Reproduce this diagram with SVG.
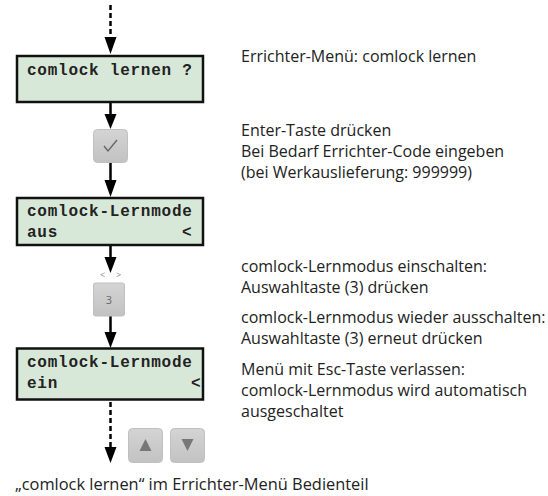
<svg xmlns="http://www.w3.org/2000/svg" width="548" height="496" viewBox="0 0 548 496">
<style>
.box{fill:#d8e8d8;stroke:#111;stroke-width:2.5}
.lcd{font-family:"Liberation Mono","Courier New",monospace;font-weight:bold;font-size:16px;letter-spacing:0.75px;fill:#222}
.txt{font-family:"Open Sans","Noto Sans",sans-serif;font-size:16px;fill:#222}
.ln{stroke:#000;stroke-width:2.5;fill:none}
.dash{stroke:#000;stroke-width:2.5;fill:none;stroke-dasharray:5 3}
.btn{fill:url(#g);stroke:#c0c0c0;stroke-width:1}
.sym{fill:#777}
.tiny{font-family:"Open Sans","Noto Sans",sans-serif;font-size:9px;fill:#888}
</style>
<defs>
<linearGradient id="g" x1="0" y1="0" x2="0" y2="1">
<stop offset="0" stop-color="#d4d4d4"/>
<stop offset="1" stop-color="#c2c2c2"/>
</linearGradient>
</defs>

<g id="connectors">
<line class="dash" x1="110.5" y1="5" x2="110.5" y2="40"/>
<path d="M104.5,37 L116.5,37 L110.5,54 Z" fill="#000"/>
<line class="ln" x1="110.5" y1="102" x2="110.5" y2="116"/>
<path d="M104.5,114 L116.5,114 L110.5,129 Z" fill="#000"/>
<line class="ln" x1="110.5" y1="163" x2="110.5" y2="182"/>
<path d="M104.5,180 L116.5,180 L110.5,197 Z" fill="#000"/>
<line class="ln" x1="110.5" y1="245" x2="110.5" y2="259"/>
<path d="M104.5,257 L116.5,257 L110.5,273 Z" fill="#000"/>
<line class="ln" x1="110.5" y1="316" x2="110.5" y2="334"/>
<path d="M104.5,332 L116.5,332 L110.5,348 Z" fill="#000"/>
<line class="dash" x1="110.5" y1="402" x2="110.5" y2="449"/>
<path d="M104.5,447 L116.5,447 L110.5,463 Z" fill="#000"/>
</g>

<g id="box1">
<rect class="box" x="17" y="56" width="186" height="46"/>
<text class="lcd" x="27" y="75">comlock lernen ?</text>
</g>

<g id="btn-enter">
<rect class="btn" x="93.5" y="129.5" width="34" height="33" rx="4"/>
<path d="M104,146 L108,151 L117,140" stroke="#666" stroke-width="1.4" fill="none"/>
</g>

<g id="box2">
<rect class="box" x="17" y="198" width="186" height="47"/>
<text class="lcd" x="27" y="216">comlock-Lernmode</text>
<text class="lcd" x="27" y="237">aus</text>
<text class="lcd" x="182" y="237">&lt;</text>
</g>

<g id="btn-3">
<text class="tiny" x="100" y="278">&lt;</text>
<text class="tiny" x="116" y="278">&gt;</text>
<rect class="btn" x="93.5" y="283" width="31" height="33" rx="2"/>
<text x="109" y="304" text-anchor="middle" font-family="'Open Sans','Noto Sans',sans-serif" font-size="11" fill="#666">3</text>
</g>

<g id="box3">
<rect class="box" x="17" y="348.5" width="186" height="51"/>
<text class="lcd" x="27" y="367">comlock-Lernmode</text>
<text class="lcd" x="27" y="388">ein</text>
<text class="lcd" x="191" y="388">&lt;</text>
</g>

<g id="btn-up">
<rect class="btn" x="128.5" y="428.5" width="34" height="34" rx="4"/>
<path class="sym" d="M139.5,451 L151.5,451 L145.5,439 Z"/>
</g>
<g id="btn-down">
<rect class="btn" x="170.5" y="428.5" width="34" height="34" rx="4"/>
<path class="sym" d="M181.5,439 L193.5,439 L187.5,451 Z"/>
</g>

<g id="labels">
<text class="txt" x="241" y="62">Errichter-Menü: comlock lernen</text>
<text class="txt" x="241" y="136">Enter-Taste drücken</text>
<text class="txt" x="241" y="157">Bei Bedarf Errichter-Code eingeben</text>
<text class="txt" x="241" y="178">(bei Werkauslieferung: 999999)</text>
<text class="txt" x="241" y="272">comlock-Lernmodus einschalten:</text>
<text class="txt" x="241" y="293">Auswahltaste (3) drücken</text>
<text class="txt" x="241" y="323">comlock-Lernmodus wieder ausschalten:</text>
<text class="txt" x="241" y="344">Auswahltaste (3) erneut drücken</text>
<text class="txt" x="241" y="375">Menü mit Esc-Taste verlassen:</text>
<text class="txt" x="241" y="396">comlock-Lernmodus wird automatisch</text>
<text class="txt" x="241" y="417">ausgeschaltet</text>
<text class="txt" x="15" y="490" style="font-size:16.4px">„comlock lernen“ im Errichter-Menü Bedienteil</text>
</g>
</svg>
